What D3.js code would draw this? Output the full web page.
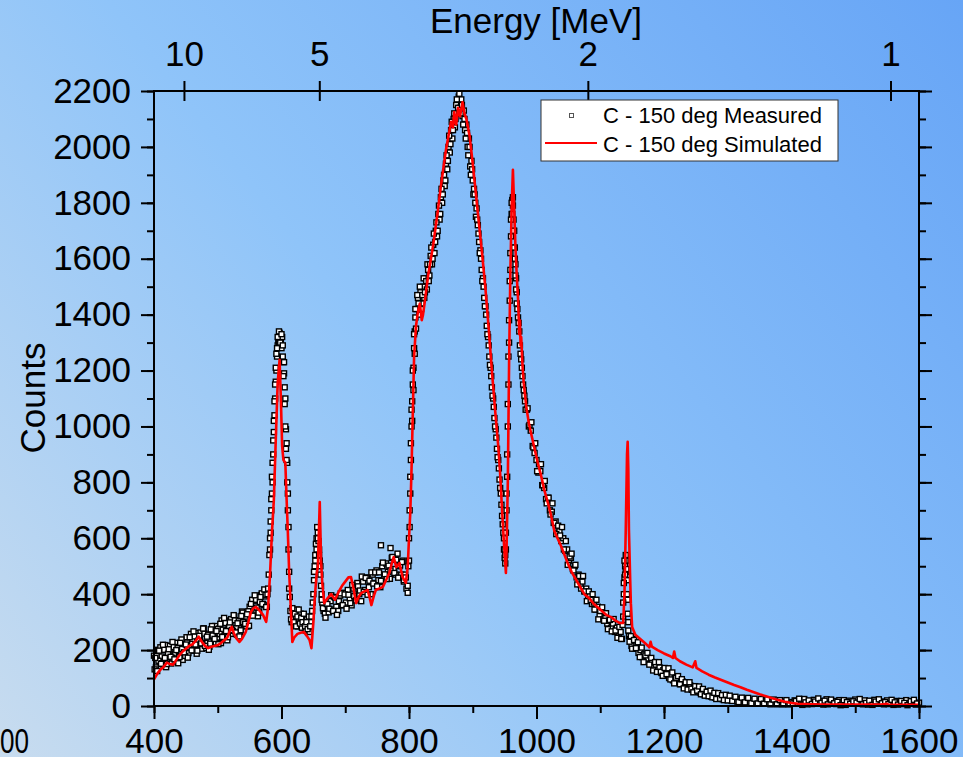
<!DOCTYPE html>
<html>
<head>
<meta charset="utf-8">
<script src="https://cdn.jsdelivr.net/npm/d3@7"></script>
<style>
  html, body { margin: 0; padding: 0; overflow: hidden; }
  svg { display: block; font-family: "Liberation Sans", Arial, sans-serif; }
</style>
</head>
<body>
<svg id="chart" width="963" height="757"></svg>
<script>
// axis ticks
var channelTicks = [400, 600, 800, 1000, 1200, 1400, 1600];
var countTicks = [0, 200, 400, 600, 800, 1000, 1200, 1400, 1600, 1800, 2000, 2200];
var energyTicks = [10, 5, 2, 1];

// measured spectrum [channel, counts] (band is noisy, so several passes)
var measuredLow = [
  [400,180],[403,138],[406,201],[409,159],[412,177],[415,145],[418,218],[421,166],[424,194],[427,152],
  [430,215],[433,188],[436,226],[439,179],[442,217],[445,165],[448,213],[451,246],[454,189],[457,227],
  [460,240],[463,198],[466,261],[469,219],[472,237],[475,205],[478,278],[481,226],[484,254],[487,212],
  [490,275],[493,248],[496,286],[499,239],[502,277],[505,225],[508,273],[511,306],[514,249],[517,287],
  [520,300],[523,258],[526,321],[529,279],[532,297],[535,265],[538,338],[541,287],[544,320],[547,285],
  [550,355],[553,333],[556,377],[559,335],[562,377],[565,338],[568,397],[571,365],[574,392],[577,355]
];
var measuredLowB = [
  [401,131],[404,179],[407,162],[410,210],[413,153],[416,201],[419,139],[422,187],[425,215],[428,173],
  [431,211],[434,159],[437,207],[440,175],[443,238],[446,196],[449,179],[452,227],[455,210],[458,258],
  [461,201],[464,249],[467,187],[470,235],[473,263],[476,221],[479,259],[482,207],[485,255],[488,223],
  [491,286],[494,244],[497,227],[500,275],[503,258],[506,306],[509,249],[512,297],[515,235],[518,283],
  [521,311],[524,269],[527,307],[530,255],[533,303],[536,271],[539,334],[542,296],[545,285],[548,339],
  [551,327],[554,380],[557,327],[560,380],[563,321],[566,372],[569,403],[572,361],[575,398],[578,400]
];
var measuredLowC = [
  [402,172],[405,125],[408,198],[411,151],[414,219],[417,172],[420,150],[423,203],[426,176],[429,229],
  [432,167],[435,200],[438,153],[441,226],[444,204],[447,192],[450,220],[453,173],[456,246],[459,199],
  [462,267],[465,220],[468,198],[471,251],[474,224],[477,277],[480,215],[483,248],[486,201],[489,274],
  [492,252],[495,240],[498,268],[501,221],[504,294],[507,247],[510,315],[513,268],[516,246],[519,299],
  [522,272],[525,325],[528,263],[531,296],[534,249],[537,322],[540,300],[543,294],[546,328],[549,287],
  [552,365],[555,323],[558,396],[561,352],[564,334],[567,390],[570,365],[573,417],[576,354]
];
var measuredPeak1 = [
  [579,420],[580,470],[581,540],[582,560],[583,620],[584,700],[585,760],[586,800],[587,900],[588,980],
  [589,1040],[590,1100],[591,1160],[592,1200],[593,1250],[594,1290],[595,1310],[596,1300],[597,1335],[598,1330],
  [599,1310],[600,1280],[601,1320],[602,1250],[603,1230],[604,1190],[605,1140],[606,1100],[607,990],[608,940],
  [609,870],[610,760],[611,640],[612,480],[613,390],
  [614,340],[616,300],[618,335],[620,290],[622,320],[624,345],[626,285],[628,310],[630,330],[632,280],
  [634,315],[636,300],[638,270],[640,310],[642,290],[644,265],[646,300],[648,340],
  [650,400],[651,450],[652,500],[653,540],[654,580],[655,600],[656,640],[657,620],[658,590],[659,560],
  [660,520],[661,470],[662,430],[663,400],[664,370],[666,340]
];
var measuredPeak1B = [
  [582,600],[583,660],[584,740],[585,820],[586,870],[587,950],[588,1020],[589,1090],[590,1150],[591,1210],
  [592,1260],[593,1280],[594,1320],[596,1340],[598,1300],[600,1330],[602,1290],[603,1180],[604,1230],[605,1080],
  [606,1000],[607,920],[608,880],[609,800],[610,700],[611,560],[612,420],
  [615,310],[617,350],[619,300],[621,330],[623,285],[625,320],[627,345],[629,295],[631,315],[633,300],
  [635,330],[637,285],[639,300],[641,275],[643,320],[645,285],[647,320],[649,370],
  [651,480],[653,520],[655,560],[657,600],[659,540],[661,500],[663,380],[665,350]
];
var measuredMid = [
  [668,330],[671,365],[674,335],[677,375],[680,345],[683,390],[686,355],[689,340],[692,395],[695,360],
  [698,405],[701,370],[704,415],[707,385],[710,360],[713,420],[716,395],[719,440],[722,400],[725,375],
  [728,445],[731,415],[734,460],[737,425],[740,400],[743,470],[746,440],[749,485],[752,450],[755,425],
  [756,575],[758,500],[761,465],[764,510],[767,480],[770,455],[771,565],[773,530],[776,490],[779,470],
  [782,545],[785,500],[788,470],[790,520],[792,445],[794,470],[796,420],[798,430]
];
var measuredMidB = [
  [669,316],[672,365],[675,348],[678,396],[681,340],[684,388],[687,326],[690,375],[693,403],[696,361],
  [699,399],[702,348],[705,398],[708,368],[711,433],[714,393],[717,378],[720,428],[723,413],[726,463],
  [729,408],[732,458],[735,398],[738,448],[741,478],[744,438],[747,478],[750,428],[753,478],[756,448],
  [759,513],[762,471],[765,454],[768,502],[771,485],[774,533],[777,476],[780,523],[783,459],[786,503],
  [789,515],[792,450],[795,460],[798,405]
];
var measuredMain = [
  [799,500],[800,600],[801,700],[802,820],[803,940],[804,1000],[805,1090],[806,1150],[807,1210],[808,1280],
  [809,1340],[810,1390],[812,1420],[814,1460],[816,1400],[818,1480],[820,1440],[822,1500],[824,1460],[826,1530],
  [828,1490],[830,1560],[832,1540],[834,1610],[836,1580],[838,1650],[840,1620],[842,1700],[844,1680],[846,1760],
  [848,1740],[850,1820],[852,1800],[854,1880],[856,1860],[858,1940],[860,1920],[862,2000],[864,1980],[866,2060],
  [868,2030],[870,2100],[872,2070],[874,2150],[876,2120],[878,2180],[880,2140],[882,2170],[884,2110],[886,2130],
  [888,2060],[890,2080],[892,2000],[894,2030],[896,1930],[898,1950],[900,1880],[902,1850],[904,1800],[906,1780],
  [908,1720],[910,1660],[912,1630],[914,1560],[916,1530],[918,1460],[920,1430],[922,1360],[924,1320],[926,1250],
  [928,1210],[930,1140],[932,1100],[934,1030],[936,990],[938,920],[940,880],[942,810],[944,760],[946,680],
  [948,620],[949,560],[950,530],[951,510],
  [952,560],[953,700],[954,820],[955,1000],[956,1150],[957,1300],[958,1450],[959,1560],[960,1680],[961,1760],
  [962,1810],[963,1790],[964,1740],[965,1700],[966,1640],[967,1580],[968,1530],[969,1480],[970,1420],[972,1370],
  [974,1290],[976,1240],[978,1180],[980,1130]
];
var measuredMainB = [
  [800,520],[801,640],[802,760],[803,880],[804,1060],[805,1020],[806,1200],[807,1130],[808,1330],[809,1260],
  [810,1420],[811,1350],[813,1470],[815,1440],[817,1500],[819,1420],[821,1470],[823,1530],[825,1480],[827,1520],
  [829,1580],[831,1520],[833,1580],[835,1640],[837,1600],[839,1690],[841,1660],[843,1730],[845,1700],[847,1790],
  [849,1760],[851,1850],[853,1830],[855,1900],[857,1880],[859,1970],[861,1950],[863,2040],[865,2010],[867,2090],
  [869,2060],[871,2120],[873,2100],[875,2170],[877,2140],[879,2190],[881,2120],[883,2150],[885,2080],[887,2100],
  [889,2030],[891,2050],[893,1970],[895,2000],[897,1900],[899,1920],[901,1830],[903,1830],[905,1750],[907,1740],
  [909,1690],[911,1620],[913,1600],[915,1520],[917,1500],[919,1430],[921,1400],[923,1330],[925,1290],[927,1220],
  [929,1180],[931,1110],[933,1070],[935,1000],[937,960],[939,890],[941,850],[943,780],[945,720],[947,650],
  [949,600],[950,560],[951,540],
  [952,620],[953,760],[954,900],[955,1080],[956,1250],[957,1380],[958,1520],[959,1620],[960,1740],[961,1800],
  [962,1760],[963,1820],[964,1700],[965,1640],[966,1600],[967,1540],[968,1490],[969,1440],[971,1390],[973,1340],
  [975,1260],[977,1210],[979,1150],[981,1110]
];
var measuredTail = [
  [982,1090],[985,1060],[988,1000],[991,985],[994,930],[997,905],[1000,880],[1003,835],[1006,840],[1009,790],
  [1012,780],[1015,740],[1018,745],[1021,700],[1024,695],[1027,655],[1030,660],[1033,620],[1036,625],[1039,590],
  [1042,600],[1045,555],[1048,560],[1051,520],[1054,530],[1057,490],[1060,500],[1063,460],[1066,470],[1069,435],
  [1072,445],[1075,410],[1078,420],[1081,385],[1084,395],[1087,365],[1090,370],[1093,345],[1096,355],[1099,325],
  [1102,340],[1105,310],[1108,320],[1111,295],[1114,305],[1117,280],[1120,295],[1123,265],[1126,280],[1129,250],
  [1132,265],[1134,240],
  [1136,320],[1137,400],[1138,460],[1139,500],[1140,480],[1141,520],[1142,450],[1143,380],[1144,300],[1145,250],
  [1147,240],[1149,215],
  [1151,240],[1154,205],[1157,220],[1160,190],[1163,200],[1166,175],[1169,185],[1172,160],[1175,170],[1178,150],
  [1181,158],[1184,138],[1187,148],[1190,128],[1193,138],[1196,118],[1199,128],[1202,110],[1205,120],[1208,100],
  [1211,110],[1214,92],[1217,102],[1220,85],[1223,95],[1226,78],[1229,88],[1232,70],[1235,80],[1238,64],
  [1241,74],[1244,58],[1247,68],[1250,52],[1253,62],[1256,48],[1259,56],[1262,42],[1265,52],[1268,38],
  [1271,48],[1274,34],[1277,44],[1280,30],[1283,40],[1286,27],[1289,36],[1292,24],[1295,33],[1298,22],
  [1301,30],[1305,20],[1310,28],[1315,16],[1320,25],[1325,14],[1330,22],[1335,12],[1340,20],[1345,11],
  [1350,19],[1355,10],[1360,18],[1365,9],[1370,17],[1375,8],[1380,16],[1385,7],[1390,15],[1395,6],
  [1400,14],[1405,20],[1410,8],[1415,15],[1420,25],[1425,6],[1430,14],[1435,22],[1440,9],[1445,17],
  [1450,5],[1455,24],[1460,12],[1465,18],[1470,7],[1475,21],[1480,13],[1485,4],[1490,19],[1495,10],
  [1500,23],[1505,8],[1510,15],[1515,20],[1520,5],[1525,12],[1530,22],[1535,9],[1540,16],[1545,6],
  [1550,20],[1555,11],[1560,4],[1565,18],[1570,13],[1575,7],[1580,21],[1585,10],[1590,15],[1595,5],[1600,12]
];
var measuredTailB = [
  [983,1060],[986,1065],[989,1005],[992,1015],[995,925],[998,940],[1001,840],[1004,865],[1007,865],[1010,790],
  [1013,805],[1016,725],[1019,745],[1022,685],[1025,725],[1028,655],[1031,615],[1034,645],[1037,610],[1040,640],
  [1043,560],[1046,590],[1049,505],[1052,535],[1055,545],[1058,485],[1061,505],[1064,435],[1067,465],[1070,420],
  [1073,465],[1076,410],[1079,375],[1082,410],[1085,380],[1088,400],[1091,345],[1094,380],[1097,310],[1100,340],
  [1103,353],[1106,305],[1109,332],[1112,275],[1115,308],[1118,267],[1121,311],[1124,270],[1127,244],[1130,283],
  [1133,240],
  [1135,290],[1136,370],[1137,440],[1138,520],[1139,470],[1140,540],[1141,490],[1142,400],[1143,330],[1144,270],
  [1146,230],[1148,250],
  [1150,205],[1153,236],[1156,207],[1159,228],[1162,175],[1165,209],[1168,157],[1171,181],[1174,190],[1177,148],
  [1180,172],[1183,127],[1186,157],[1189,122],[1192,157],[1195,122],[1198,108],[1201,136],[1204,114],[1207,135],
  [1210,95],[1213,120],[1216,81],[1219,101],[1222,107],[1225,78],[1228,96],[1231,63],[1234,85],[1237,59],
  [1240,85],[1243,62],[1246,49],[1249,71],[1252,55],[1255,70],[1258,42],[1261,61],[1264,37],[1267,51],
  [1270,35],[1273,55],[1276,31],[1279,47],[1282,25],[1285,46],[1288,26],[1291,39],[1294,21],[1297,40],
  [1300,20],[1303,37],[1307,18],[1312,33],[1317,14],[1322,30],[1327,13],[1332,29],[1337,10],[1342,26],
  [1347,9],[1352,25],[1357,8],[1362,24],[1367,6],[1372,23],[1377,6],[1382,21],[1387,6],[1392,21],
  [1397,7],[1402,9],[1407,18],[1412,26],[1417,4],[1422,13],[1427,20],[1432,7],[1437,16],[1442,27],
  [1447,11],[1452,19],[1457,6],[1462,23],[1467,10],[1472,15],[1477,3],[1482,21],[1487,14],[1492,8],
  [1497,17],[1502,12],[1507,25],[1512,6],[1517,11],[1522,19],[1527,4],[1532,16],[1537,24],[1542,10],
  [1547,14],[1552,7],[1557,22],[1562,13],[1567,5],[1572,18],[1577,11],[1582,3],[1587,17],[1592,22],[1597,9]
];

// simulated spectrum [channel, counts]
var simulated = [
  [400,95],[405,115],[410,130],[415,140],[420,155],[425,150],[430,148],[435,165],[440,182],[445,195],
  [450,205],[455,215],[460,220],[465,232],[470,248],[475,230],[480,215],[485,207],[490,212],[495,215],
  [500,218],[505,225],[510,235],[515,245],[520,275],[522,283],[525,262],[529,243],[534,229],[538,240],
  [544,265],[548,300],[552,336],[556,350],[560,354],[565,343],[571,326],[576,301],[579,354],[582,470],
  [585,620],[588,737],[591,952],[594,1155],[597,1238],[599,1100],[601,930],[603,880],[606,870],[608,740],
  [610,619],[612,480],[614,380],[617,229],[620,245],[625,258],[630,262],[635,265],[640,250],[644,236],
  [647,207],[650,300],[652,380],[655,470],[657,497],[660,730],[662,520],[664,440],[667,368],[672,385],
  [678,400],[684,380],[690,410],[695,430],[700,445],[705,460],[709,461],[713,420],[717,368],[721,390],
  [725,404],[730,410],[735,415],[738,390],[741,361],[745,395],[748,415],[753,420],[759,426],[764,450],
  [769,475],[773,510],[776,533],[780,497],[783,505],[785,511],[788,480],[790,461],[795,440],[798,497],
  [800,600],[802,690],[804,850],[806,1050],[808,1250],[811,1360],[814,1410],[817,1440],[820,1380],[822,1400],
  [825,1450],[830,1540],[838,1650],[845,1767],[850,1860],[858,1990],[862,2040],[866,2090],[869,2070],[871,2125],
  [874,2080],[877,2140],[880,2110],[884,2160],[887,2120],[890,2100],[895,2040],[900,1940],[905,1830],[910,1720],
  [915,1610],[920,1490],[925,1350],[930,1200],[935,1060],[940,930],[943,830],[946,700],[949,580],[952,476],
  [953,560],[955,800],[957,1227],[959,1550],[961,1780],[963,1918],[965,1780],[967,1640],[969,1540],[971,1460],
  [973,1330],[974,1380],[975,1290],[976,1320],[978,1220],[980,1155],[984,1070],[988,1012],[992,970],[996,930],
  [1002,870],[1007,826],[1012,775],[1018,726],[1023,680],[1028,626],[1033,600],[1038,575],[1044,540],[1049,511],
  [1055,480],[1065,440],[1075,400],[1083,385],[1090,365],[1100,345],[1110,325],[1117,318],[1124,305],[1130,297],
  [1136,297],[1138,400],[1140,630],[1142,900],[1143,945],[1144,850],[1145,630],[1147,450],[1148,368],[1150,283],
  [1155,255],[1160,245],[1165,235],[1170,225],[1175,215],[1177,210],[1179,230],[1181,212],[1190,200],[1200,188],
  [1210,178],[1214,172],[1216,195],[1218,172],[1225,160],[1235,148],[1245,138],[1249,160],[1251,136],[1260,124],
  [1270,112],[1280,102],[1290,93],[1300,84],[1310,75],[1320,67],[1330,58],[1340,50],[1350,42],[1360,35],
  [1370,28],[1380,21],[1390,15],[1400,11],[1410,8],[1430,6],[1450,5],[1500,5],[1540,5],[1550,8],
  [1552,5],[1600,4]
];

var svg = d3.select("#chart");
var plotLeft = 154, plotRight = 919, plotTop = 91, plotBottom = 706;

// background gradient
var grad = svg.append("defs").append("linearGradient")
  .attr("id", "bg")
  .attr("gradientUnits", "userSpaceOnUse")
  .attr("x1", 0).attr("y1", 757).attr("x2", 963).attr("y2", 0);
grad.append("stop").attr("offset", "0").attr("stop-color", "#c8dcef");
grad.append("stop").attr("offset", "0.45").attr("stop-color", "#8fc4f9");
grad.append("stop").attr("offset", "1").attr("stop-color", "#67a5f6");
svg.append("rect").attr("width", 963).attr("height", 757).attr("fill", "url(#bg)");

var x = d3.scaleLinear().domain([400, 1600]).range([plotLeft, plotRight]);
var y = d3.scaleLinear().domain([0, 2200]).range([plotBottom, plotTop]);
// time of flight: 1/sqrt(E) is linear in channel
var energy = d3.scalePow().exponent(-0.5).domain([12.12, 0.947]).range([plotLeft, plotRight]);

// measured points
var measured = measuredLow.concat(measuredLowB, measuredLowC, measuredPeak1, measuredPeak1B,
  measuredMid, measuredMidB, measuredMain, measuredMainB, measuredTail, measuredTailB);
svg.append("g").selectAll("rect")
  .data(measured)
  .enter()
  .append("rect")
  .attr("x", function (d) { return x(d[0]) - 2.5; })
  .attr("y", function (d) { return y(d[1]) - 2.5; })
  .attr("width", 5)
  .attr("height", 5)
  .attr("fill", "#fff")
  .attr("stroke", "#000")
  .attr("stroke-width", 1.4);

// simulated line
var line = d3.line()
  .x(function (d) { return x(d[0]); })
  .y(function (d) { return y(d[1]); });
svg.append("path")
  .datum(simulated)
  .attr("d", line)
  .attr("fill", "none")
  .attr("stroke", "#ff0000")
  .attr("stroke-width", 2.6)
  .attr("stroke-linejoin", "round");

// axes
function styleAxis(g) {
  g.select(".domain").remove();
  g.selectAll("line").attr("stroke", "#000").attr("stroke-width", 2);
  g.selectAll("text").attr("font-size", 35).attr("fill", "#000").attr("font-family", "Liberation Sans, Arial, sans-serif");
}

svg.append("g")
  .attr("transform", "translate(0," + plotBottom + ")")
  .call(d3.axisBottom(x).ticks(12).tickSize(7).tickFormat(""))
  .call(styleAxis);
svg.append("g")
  .attr("transform", "translate(0," + plotBottom + ")")
  .call(d3.axisBottom(x).tickValues(channelTicks).tickSize(13).tickPadding(9).tickFormat(d3.format("d")))
  .call(styleAxis);

svg.append("g")
  .attr("transform", "translate(" + plotLeft + ",0)")
  .call(d3.axisLeft(y).ticks(22).tickSize(7).tickFormat(""))
  .call(styleAxis);
svg.append("g")
  .attr("transform", "translate(" + plotLeft + ",0)")
  .call(d3.axisLeft(y).tickValues(countTicks).tickSize(13).tickPadding(10).tickFormat(d3.format("d")))
  .call(styleAxis);

svg.append("g")
  .attr("transform", "translate(" + plotRight + ",0)")
  .call(d3.axisLeft(y).ticks(22).tickSize(-7).tickFormat(""))
  .call(styleAxis);
svg.append("g")
  .attr("transform", "translate(" + plotRight + ",0)")
  .call(d3.axisLeft(y).tickValues(countTicks).tickSize(-13).tickFormat(""))
  .call(styleAxis);

var topAxis = svg.append("g")
  .attr("transform", "translate(0," + plotTop + ")")
  .call(d3.axisTop(energy).tickValues(energyTicks).tickSize(10).tickPadding(15).tickFormat(d3.format("d")))
  .call(styleAxis);
topAxis.selectAll(".tick line").attr("y1", 10).attr("y2", -10);

// frame
svg.append("rect")
  .attr("x", plotLeft).attr("y", plotTop)
  .attr("width", plotRight - plotLeft).attr("height", plotBottom - plotTop)
  .attr("fill", "none").attr("stroke", "#000").attr("stroke-width", 2);

// titles
svg.append("text")
  .attr("x", 536).attr("y", 33)
  .attr("text-anchor", "middle")
  .attr("font-size", 35)
  .text("Energy [MeV]");
svg.append("text")
  .attr("transform", "translate(45,398) rotate(-90)")
  .attr("text-anchor", "middle")
  .attr("font-size", 35)
  .text("Counts");
// leftover label at the left edge
svg.append("text")
  .attr("x", 0).attr("y", 753)
  .attr("font-size", 35)
  .attr("textLength", 29)
  .attr("lengthAdjust", "spacingAndGlyphs")
  .text("00");

// legend
var legend = svg.append("g").attr("transform", "translate(541,100)");
legend.append("rect")
  .attr("width", 297).attr("height", 61)
  .attr("fill", "#fff").attr("stroke", "#333").attr("stroke-width", 1);
legend.append("rect")
  .attr("x", 28.5).attr("y", 13.5).attr("width", 4).attr("height", 4)
  .attr("fill", "#fff").attr("stroke", "#555").attr("stroke-width", 1);
legend.append("line")
  .attr("x1", 4).attr("x2", 56).attr("y1", 43).attr("y2", 43)
  .attr("stroke", "#ff0000").attr("stroke-width", 2);
legend.append("text").attr("x", 62).attr("y", 23).attr("font-size", 22).text("C - 150 deg Measured");
legend.append("text").attr("x", 62).attr("y", 52).attr("font-size", 22).text("C - 150 deg Simulated");
</script>
</body>
</html>
